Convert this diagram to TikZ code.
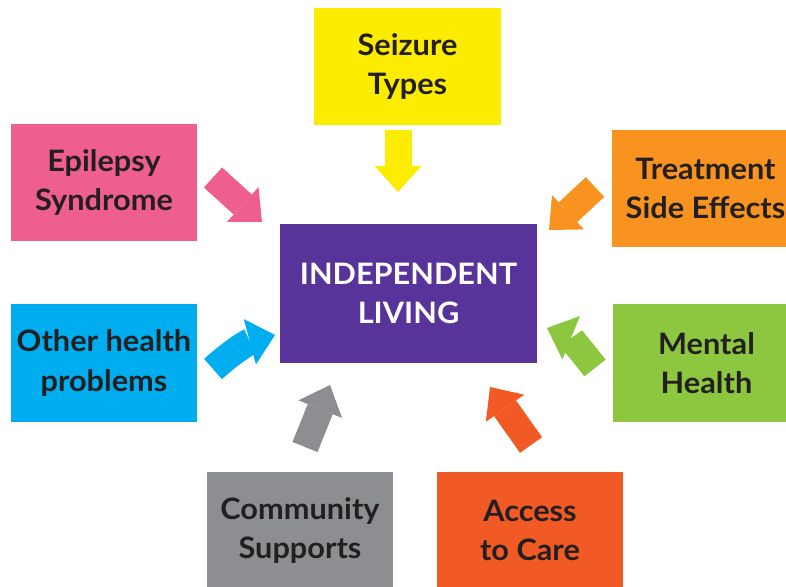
\documentclass[tikz,border=0pt]{standalone}
\usepackage{fontspec}
\setmainfont{Lato}[FakeStretch=1.04]
\usetikzlibrary{arrows.meta}

% Box colours
\definecolor{seizureyellow}{HTML}{FCEC00}
\definecolor{epilepsypink}{HTML}{EF5F8E}
\definecolor{treatorange}{HTML}{F7931E}
\definecolor{livingpurple}{HTML}{57339A}
\definecolor{otherblue}{HTML}{00AEEF}
\definecolor{mentalgreen}{HTML}{8DC63F}
\definecolor{communitygray}{HTML}{8D8E91}
\definecolor{accessred}{HTML}{F15A24}
\definecolor{boxtext}{HTML}{231F20}

\def\pxu{0.025cm}

\tikzset{
  box/.style={minimum width=186*\pxu, minimum height=117*\pxu, inner sep=0pt,
    align=center, text=boxtext, font=\bfseries\fontsize{21}{28}\selectfont},
  blockarrow/.style={line width=19.2pt,
    -{Triangle[length=18.5pt,width=33.4pt,line width=0pt]}}
}

\begin{document}
\begin{tikzpicture}[x=\pxu, y=\pxu]
% Page size and clipping of the boxes at the right edge
\useasboundingbox (0,0) rectangle (786,586);
\clip (0,0) rectangle (786,586);

% Centre box
\node[box, fill=livingpurple, text=white, minimum width=257*\pxu, minimum height=139*\pxu]
  (living) at (408.5,292.5) {INDEPENDENT\\LIVING};

% Outer boxes
\node[box, fill=seizureyellow, minimum width=187*\pxu] (seizure) at (407.5,519.5) {Seizure\\Types};
\node[box, fill=epilepsypink] (epilepsy) at (104,403.5) {Epilepsy\\Syndrome};
\node[box, fill=treatorange, minimum width=187*\pxu] (treatment) at (705.5,397.5) {Treatment\\Side Effects};
\node[box, fill=otherblue, minimum height=118*\pxu] (other) at (104,223) {Other health\\problems};
\node[box, fill=mentalgreen, minimum width=187*\pxu, minimum height=118*\pxu] (mental) at (706.5,223) {Mental\\Health};
\node[box, fill=communitygray] (community) at (300,55.5) {Community\\Supports};
\node[box, fill=accessred] (access) at (530,55.5) {Access\\to Care};

% Arrow ends
\coordinate (seizurefrom) at (398,456);   \coordinate (seizureto) at (398,394);
\coordinate (epilepsyfrom) at (213,408.5); \coordinate (epilepsyto) at (262,364);
\coordinate (treatfrom) at (595,399);     \coordinate (treatto) at (549,356);
\coordinate (otherfrom) at (213,217);     \coordinate (otherto) at (275,251);
\coordinate (communityfrom) at (305,139); \coordinate (communityto) at (330,201);
\coordinate (mentalfrom) at (595,218);    \coordinate (mentalto) at (547,258);
\coordinate (accessfrom) at (531,141);    \coordinate (accessto) at (490,199);

% Block arrows pointing to the centre box
\draw[blockarrow, seizureyellow] (seizurefrom) -- (seizureto);
\draw[blockarrow, epilepsypink] (epilepsyfrom) -- (epilepsyto);
\draw[blockarrow, treatorange] (treatfrom) -- (treatto);
\draw[blockarrow, otherblue] (otherfrom) to[out=42, in=195] (otherto);
\draw[blockarrow, communitygray] (communityfrom) -- (communityto);
\draw[blockarrow, mentalgreen] (mentalfrom) to[out=128, in=-22] (mentalto);
\draw[blockarrow, accessred] (accessfrom) -- (accessto);

\end{tikzpicture}
\end{document}
